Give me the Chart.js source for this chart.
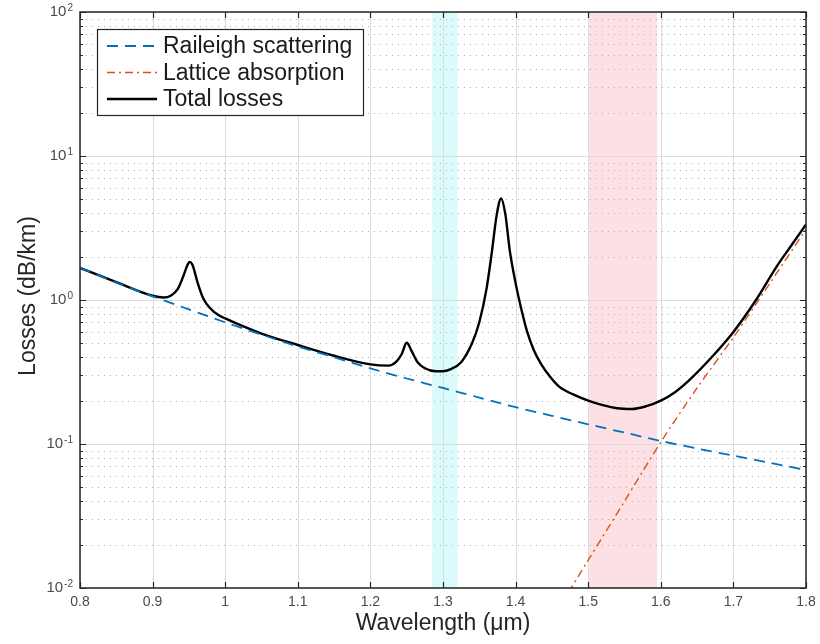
<!DOCTYPE html>
<html>
<head>
<meta charset="utf-8">
<script src="https://cdn.jsdelivr.net/npm/chart.js@4/dist/chart.umd.min.js"></script>
<style>
  html, body { margin: 0; padding: 0; background: #fff; }
  #wrap { width: 820px; height: 644px; position: relative; }
</style>
</head>
<body>
<div id="wrap"><canvas id="lossChart" width="820" height="644"></canvas></div>
<script>
// Fibre loss spectrum

// Raileigh scattering (dB/km)
const raileighWl = [0.8, 0.85, 0.9, 0.95, 1.0, 1.05, 1.1, 1.15, 1.2, 1.25, 1.3, 1.35, 1.4, 1.45, 1.5, 1.55, 1.6, 1.65, 1.7, 1.75, 1.8];
const raileighLoss = [1.68, 1.32, 1.06, 0.86, 0.70, 0.575, 0.475, 0.40, 0.335, 0.285, 0.245, 0.21, 0.18, 0.157, 0.137, 0.12, 0.105, 0.093, 0.083, 0.074, 0.066];

// Lattice (infrared) absorption (dB/km)
const latticeWl = [1.46, 1.5, 1.55, 1.6, 1.65, 1.7, 1.75, 1.8];
const latticeLoss = [0.0073, 0.0156, 0.04, 0.103, 0.245, 0.55, 1.3, 3.1];

// Total losses (dB/km)
const totalWl = [0.8, 0.85, 0.9, 0.915, 0.925, 0.935, 0.942, 0.948, 0.951, 0.955, 0.962, 0.97, 0.98, 0.99, 1.0,
  1.05, 1.1, 1.15, 1.2, 1.225, 1.235, 1.243, 1.25, 1.257, 1.265, 1.275, 1.29, 1.3, 1.31, 1.325, 1.34, 1.35,
  1.36, 1.367, 1.374, 1.38, 1.386, 1.392, 1.4, 1.408, 1.416, 1.425, 1.435, 1.447, 1.46, 1.48, 1.5, 1.52,
  1.54, 1.56, 1.58, 1.6, 1.62, 1.64, 1.67, 1.7, 1.73, 1.76, 1.78, 1.8];
const totalLoss = [1.67, 1.33, 1.07, 1.04, 1.07, 1.2, 1.45, 1.75, 1.84, 1.75, 1.32, 1.02, 0.87, 0.79, 0.745,
  0.585, 0.487, 0.41, 0.357, 0.35, 0.37, 0.42, 0.505, 0.44, 0.37, 0.336, 0.32, 0.32, 0.33, 0.37, 0.5, 0.7,
  1.2, 2.1, 3.9, 5.07, 3.9, 2.2, 1.31, 0.86, 0.6, 0.45, 0.36, 0.295, 0.25, 0.22, 0.2, 0.186,
  0.177, 0.175, 0.183, 0.2, 0.23, 0.28, 0.4, 0.6, 0.98, 1.72, 2.4, 3.35];

// Highlighted windows (µm)
const bandO = [1.285, 1.32];
const bandC = [1.5, 1.595];

// Axis ticks
const xTicks = [0.8, 0.9, 1.0, 1.1, 1.2, 1.3, 1.4, 1.5, 1.6, 1.7, 1.8];
const xTickLabels = ['0.8', '0.9', '1', '1.1', '1.2', '1.3', '1.4', '1.5', '1.6', '1.7', '1.8'];
const yExponents = [-2, -1, 0, 1, 2];
const yMinorMultipliers = [2, 3, 4, 5, 6, 7, 8, 9];

function toPoints(xs, ys) {
    return xs.map((x, i) => ({ x: x, y: ys[i] }));
}

const FONT = '"Liberation Sans", Arial, Helvetica, sans-serif';
const AXIS = '#262626';

// Bands, grid, box, ticks and labels in MATLAB style
const matlabAxes = {
    id: 'matlabAxes',
    beforeDatasetsDraw(chart) {
        const { ctx, chartArea: a, scales: { x, y } } = chart;
        ctx.save();
        // shaded windows
        ctx.fillStyle = '#dafafb';
        ctx.fillRect(x.getPixelForValue(bandO[0]), a.top, x.getPixelForValue(bandO[1]) - x.getPixelForValue(bandO[0]), a.bottom - a.top);
        ctx.fillStyle = '#fde0e4';
        ctx.fillRect(x.getPixelForValue(bandC[0]), a.top, x.getPixelForValue(bandC[1]) - x.getPixelForValue(bandC[0]), a.bottom - a.top);

        // minor y grid (dotted)
        ctx.strokeStyle = '#b0b0b0';
        ctx.lineWidth = 1;
        ctx.setLineDash([1, 5]);
        yExponents.slice(0, -1).forEach(e => {
            yMinorMultipliers.forEach(m => {
                const py = Math.round(y.getPixelForValue(m * Math.pow(10, e))) + 0.5;
                ctx.beginPath();
                ctx.moveTo(a.left, py);
                ctx.lineTo(a.right, py);
                ctx.stroke();
            });
        });
        // major grid
        ctx.setLineDash([]);
        ctx.strokeStyle = '#dcdcdc';
        xTicks.forEach(v => {
            const px = Math.round(x.getPixelForValue(v)) + 0.5;
            ctx.beginPath();
            ctx.moveTo(px, a.top);
            ctx.lineTo(px, a.bottom);
            ctx.stroke();
        });
        yExponents.forEach(e => {
            const py = Math.round(y.getPixelForValue(Math.pow(10, e))) + 0.5;
            ctx.beginPath();
            ctx.moveTo(a.left, py);
            ctx.lineTo(a.right, py);
            ctx.stroke();
        });
        ctx.restore();
    },
    afterDatasetsDraw(chart) {
        const { ctx, chartArea: a, scales: { x, y } } = chart;
        ctx.save();
        ctx.setLineDash([]);
        ctx.strokeStyle = AXIS;
        ctx.lineWidth = 1.5;
        ctx.strokeRect(a.left, a.top, a.right - a.left, a.bottom - a.top);

        // ticks inside the box
        ctx.lineWidth = 1.2;
        xTicks.forEach(v => {
            const px = Math.round(x.getPixelForValue(v)) + 0.5;
            ctx.beginPath();
            ctx.moveTo(px, a.bottom); ctx.lineTo(px, a.bottom - 6);
            ctx.moveTo(px, a.top); ctx.lineTo(px, a.top + 6);
            ctx.stroke();
        });
        yExponents.forEach((e, i) => {
            const py = Math.round(y.getPixelForValue(Math.pow(10, e))) + 0.5;
            ctx.beginPath();
            ctx.moveTo(a.left, py); ctx.lineTo(a.left + 6, py);
            ctx.moveTo(a.right, py); ctx.lineTo(a.right - 6, py);
            ctx.stroke();
            if (i < yExponents.length - 1) {
                yMinorMultipliers.forEach(m => {
                    const pm = Math.round(y.getPixelForValue(m * Math.pow(10, e))) + 0.5;
                    ctx.beginPath();
                    ctx.moveTo(a.left, pm); ctx.lineTo(a.left + 3, pm);
                    ctx.moveTo(a.right, pm); ctx.lineTo(a.right - 3, pm);
                    ctx.stroke();
                });
            }
        });

        // x tick labels
        ctx.fillStyle = '#4a4a4a';
        ctx.font = '14px ' + FONT;
        ctx.textAlign = 'center';
        ctx.textBaseline = 'middle';
        xTicks.forEach((v, i) => {
            ctx.fillText(xTickLabels[i], x.getPixelForValue(v), a.bottom + 14);
        });

        // y tick labels as 10^n
        yExponents.forEach(e => {
            const py = y.getPixelForValue(Math.pow(10, e));
            const exp = String(e);
            ctx.font = '10px ' + FONT;
            const ew = ctx.measureText(exp).width;
            ctx.textAlign = 'left';
            ctx.textBaseline = 'alphabetic';
            const right = a.left - 7;
            ctx.fillText(exp, right - ew, py - 1);
            ctx.font = '15px ' + FONT;
            ctx.textAlign = 'right';
            ctx.textBaseline = 'middle';
            ctx.fillText('10', right - ew - 1, py);
        });

        // axis titles
        ctx.fillStyle = '#262626';
        ctx.font = '23px ' + FONT;
        ctx.textAlign = 'center';
        ctx.textBaseline = 'middle';
        ctx.fillText('Wavelength (\u03bcm)', (a.left + a.right) / 2, 624);
        ctx.save();
        ctx.translate(29, 296);
        ctx.rotate(-Math.PI / 2);
        ctx.fillText('Losses (dB/km)', 0, 0);
        ctx.restore();

        // legend box (upper left)
        const lx = 97, ly = 29, lw = 266, lh = 86;
        ctx.fillStyle = '#ffffff';
        ctx.fillRect(lx, ly, lw, lh);
        ctx.strokeStyle = AXIS;
        ctx.lineWidth = 1.2;
        ctx.strokeRect(lx + 0.5, ly + 0.5, lw, lh);
        ctx.font = '23px ' + FONT;
        ctx.textAlign = 'left';
        ctx.textBaseline = 'middle';
        chart.data.datasets.forEach((ds, i) => {
            const ry = ly + 17 + i * 26.5;
            ctx.strokeStyle = ds.borderColor;
            ctx.lineWidth = ds.borderWidth;
            ctx.setLineDash(ds.borderDash || []);
            ctx.beginPath();
            ctx.moveTo(lx + 10, ry);
            ctx.lineTo(lx + 60, ry);
            ctx.stroke();
            ctx.setLineDash([]);
            ctx.fillStyle = '#1a1a1a';
            ctx.fillText(ds.label, lx + 66, ry + 1);
        });
        ctx.restore();
    }
};

const chart = new Chart(document.getElementById('lossChart'), {
    type: 'line',
    data: {
        datasets: [
            {
                label: 'Raileigh scattering',
                data: toPoints(raileighWl, raileighLoss),
                borderColor: '#0072BD',
                borderWidth: 1.8,
                borderDash: [11, 7],
                pointRadius: 0,
                tension: 0.3
            },
            {
                label: 'Lattice absorption',
                data: toPoints(latticeWl, latticeLoss),
                borderColor: '#D95319',
                borderWidth: 1.4,
                borderDash: [8, 4, 2, 4],
                pointRadius: 0,
                tension: 0.3
            },
            {
                label: 'Total losses',
                data: toPoints(totalWl, totalLoss),
                borderColor: '#000000',
                borderWidth: 2.4,
                pointRadius: 0,
                cubicInterpolationMode: 'monotone'
            }
        ]
    },
    options: {
        responsive: false,
        animation: false,
        maintainAspectRatio: false,
        layout: { padding: { left: 80, right: 14, top: 12, bottom: 56 } },
        scales: {
            x: { type: 'linear', min: 0.8, max: 1.8, display: false },
            y: { type: 'logarithmic', min: 0.01, max: 100, display: false }
        },
        plugins: {
            legend: { display: false },
            tooltip: { enabled: false }
        }
    },
    plugins: [matlabAxes]
});
</script>
</body>
</html>
